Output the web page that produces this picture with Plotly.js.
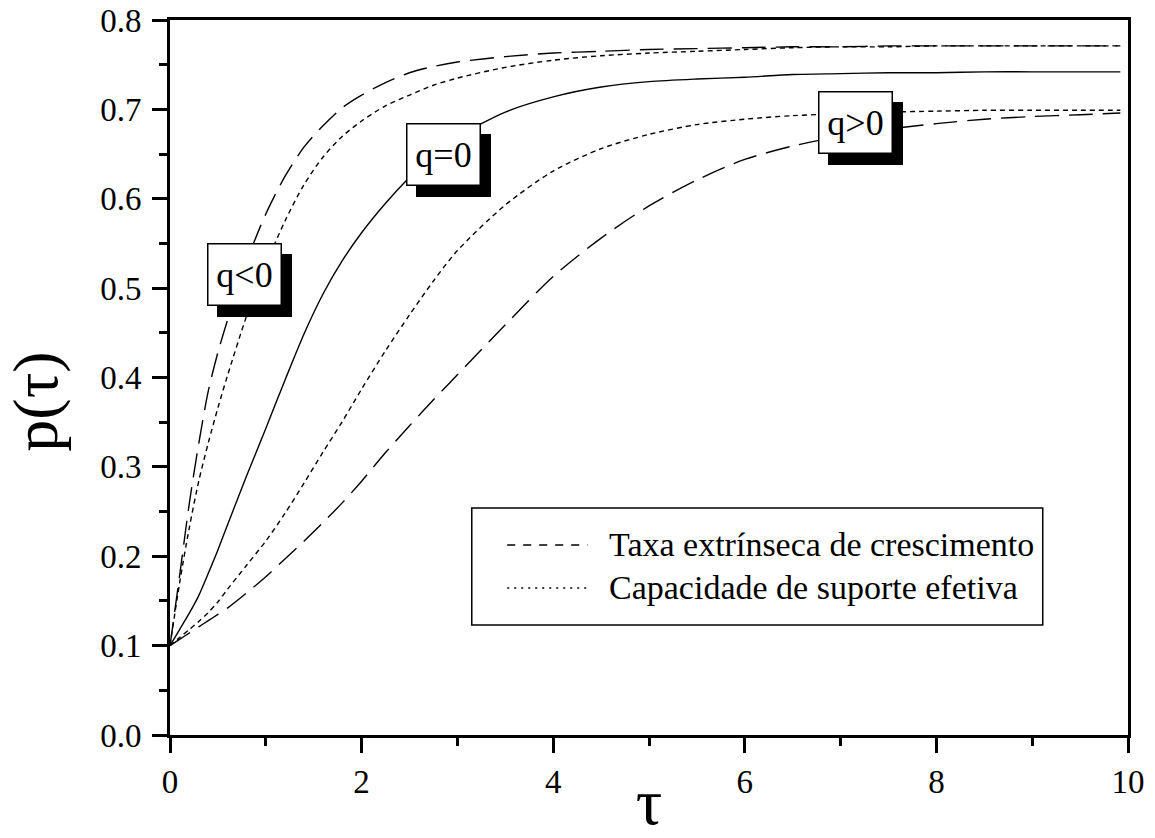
<!DOCTYPE html>
<html>
<head>
<meta charset="utf-8">
<script src="https://cdn.plot.ly/plotly-3.0.1.min.js"></script>
<style>html,body{margin:0;padding:0;background:#fff;}#chart{width:1155px;height:838px;}</style>
</head>
<body>
<div id="chart"></div>
<script>
// ---- data ----
const tau = [0, 0.1, 0.2, 0.3, 0.4, 0.5, 0.6, 0.8, 1.0, 1.2, 1.4, 1.6, 1.8, 2.0, 2.25, 2.5, 2.75, 3.0, 3.5, 4.0, 4.5, 5.0, 5.5, 6.0, 6.5, 7.0, 7.5, 8.0, 8.5, 9.0, 9.5, 9.92];

// q<0, taxa extrínseca de crescimento (dashed)
const pNegTaxa = [0.100, 0.178, 0.258, 0.326, 0.385, 0.428, 0.464, 0.530, 0.583, 0.625, 0.658, 0.682, 0.702, 0.716, 0.730, 0.741, 0.748, 0.753, 0.759, 0.763, 0.765, 0.767, 0.768, 0.769, 0.770, 0.770, 0.771, 0.771, 0.771, 0.771, 0.771, 0.771];
// q<0, capacidade de suporte efetiva (dotted)
const pNegCap = [0.100, 0.170, 0.231, 0.284, 0.327, 0.366, 0.402, 0.469, 0.526, 0.575, 0.616, 0.647, 0.670, 0.687, 0.704, 0.716, 0.727, 0.735, 0.747, 0.755, 0.760, 0.763, 0.765, 0.767, 0.769, 0.770, 0.770, 0.771, 0.771, 0.771, 0.771, 0.771];
// q=0 (solid)
const pZero = [0.100, 0.118, 0.136, 0.156, 0.181, 0.207, 0.235, 0.290, 0.343, 0.397, 0.449, 0.494, 0.531, 0.562, 0.595, 0.624, 0.650, 0.669, 0.697, 0.714, 0.725, 0.731, 0.734, 0.736, 0.739, 0.740, 0.741, 0.741, 0.742, 0.742, 0.742, 0.742];
// q>0, capacidade de suporte efetiva (dotted)
const pPosCap = [0.100, 0.109, 0.118, 0.127, 0.137, 0.149, 0.163, 0.190, 0.217, 0.248, 0.282, 0.317, 0.351, 0.387, 0.430, 0.470, 0.508, 0.542, 0.593, 0.631, 0.656, 0.672, 0.683, 0.689, 0.693, 0.695, 0.697, 0.698, 0.699, 0.699, 0.699, 0.699];
// q>0, taxa extrínseca de crescimento (dashed)
const pPosTaxa = [0.100, 0.107, 0.114, 0.121, 0.128, 0.135, 0.142, 0.159, 0.177, 0.197, 0.217, 0.238, 0.260, 0.284, 0.316, 0.346, 0.375, 0.403, 0.459, 0.513, 0.556, 0.592, 0.621, 0.644, 0.659, 0.670, 0.678, 0.684, 0.689, 0.692, 0.694, 0.696];

const xTickVals = [0, 2, 4, 6, 8, 10];
const xTickText = ['0', '2', '4', '6', '8', '10'];
const yTickVals = [0.0, 0.1, 0.2, 0.3, 0.4, 0.5, 0.6, 0.7, 0.8];
const yTickText = ['0.0', '0.1', '0.2', '0.3', '0.4', '0.5', '0.6', '0.7', '0.8'];

const legendLabels = ['Taxa extrínseca de crescimento', 'Capacidade de suporte efetiva'];
const qLabels = ['q&lt;0', 'q=0', 'q&gt;0'];
const xTitle = 'τ';
const yTitle = 'p(τ)&nbsp;&nbsp;&nbsp;';

// ---- styles ----
const FONT = 'Liberation Serif, Times New Roman, serif';
const DASH_LONG = '24px,10px';
const DASH_DOT = '5px,4px';

function curve(y, dash, name) {
  return {
    x: tau, y: y, type: 'scatter', mode: 'lines', name: name, showlegend: false,
    line: {color: 'black', width: 1.4, dash: dash, shape: 'spline', smoothing: 0.8},
    hoverinfo: 'skip'
  };
}

const traces = [
  curve(pNegTaxa, DASH_LONG, legendLabels[0] + ' (q<0)'),
  curve(pNegCap, DASH_DOT, legendLabels[1] + ' (q<0)'),
  curve(pZero, 'solid', 'q=0'),
  curve(pPosCap, DASH_DOT, legendLabels[1] + ' (q>0)'),
  curve(pPosTaxa, DASH_LONG, legendLabels[0] + ' (q>0)')
];

// label boxes with drop shadow (shadow box is an empty fixed-size annotation)
const labelPos = [[0.78, 0.515], [2.855, 0.649], [7.155, 0.685]];
const annotations = [];
qLabels.forEach((t, i) => {
  const base = {
    x: labelPos[i][0], y: labelPos[i][1], xref: 'x', yref: 'y', showarrow: false,
    width: 58, height: 46, borderpad: 7, borderwidth: 1.5, align: 'center', valign: 'middle'
  };
  annotations.push(Object.assign({}, base, {
    text: '&nbsp;', xshift: 10, yshift: -11, bgcolor: 'black', bordercolor: 'black',
    font: {family: FONT, size: 36, color: 'black'}
  }));
  annotations.push(Object.assign({}, base, {
    text: t, bgcolor: 'white', bordercolor: 'black',
    font: {family: FONT, size: 36, color: 'black'}
  }));
});

// legend (box, sample lines, labels)
const legRowY = [0.2126, 0.1645];
const legDash = ['8px,8px', '2px,5px'];
const shapes = [{
  type: 'rect', xref: 'x', yref: 'y', x0: 3.15, x1: 9.11, y0: 0.123, y1: 0.254,
  line: {color: 'black', width: 1.5}, fillcolor: 'white', layer: 'above'
}];
legendLabels.forEach((lab, i) => {
  shapes.push({
    type: 'line', xref: 'x', yref: 'y', x0: 3.52, x1: 4.36, y0: legRowY[i], y1: legRowY[i],
    line: {color: 'black', width: 1.5, dash: legDash[i]}, layer: 'above'
  });
  annotations.push({
    x: 4.56, y: legRowY[i], xref: 'x', yref: 'y', text: lab, showarrow: false,
    xanchor: 'left', yanchor: 'middle', font: {family: FONT, size: 34, color: 'black'}
  });
});

const layout = {
  width: 1155, height: 838,
  margin: {l: 170, r: 27, t: 20, b: 103},
  paper_bgcolor: 'white', plot_bgcolor: 'white',
  showlegend: false,
  font: {family: FONT, color: 'black'},
  xaxis: {
    range: [0, 10], showgrid: false, zeroline: false,
    showline: true, linecolor: 'black', linewidth: 3, mirror: true,
    ticks: 'outside', ticklen: 15, tickwidth: 3, tickcolor: 'black',
    tickmode: 'array', tickvals: xTickVals, ticktext: xTickText,
    tickfont: {family: FONT, size: 33, color: 'black'},
    minor: {dtick: 1, ticks: 'outside', ticklen: 8, tickwidth: 3, tickcolor: 'black'},
    title: {text: xTitle, font: {family: FONT, size: 66, color: 'black'}, standoff: 0}
  },
  yaxis: {
    range: [0, 0.8], showgrid: false, zeroline: false,
    showline: true, linecolor: 'black', linewidth: 3, mirror: true,
    ticks: 'outside', ticklen: 15, tickwidth: 3, tickcolor: 'black',
    tickmode: 'array', tickvals: yTickVals, ticktext: yTickText,
    tickfont: {family: FONT, size: 33, color: 'black'},
    ticklabelstandoff: 4,
    minor: {dtick: 0.05, ticks: 'outside', ticklen: 8, tickwidth: 3, tickcolor: 'black'},
    title: {text: yTitle, font: {family: FONT, size: 64, color: 'black'}, standoff: 30}
  },
  annotations: annotations,
  shapes: shapes
};

Plotly.newPlot('chart', traces, layout, {displayModeBar: false, staticPlot: true});
</script>
</body>
</html>
